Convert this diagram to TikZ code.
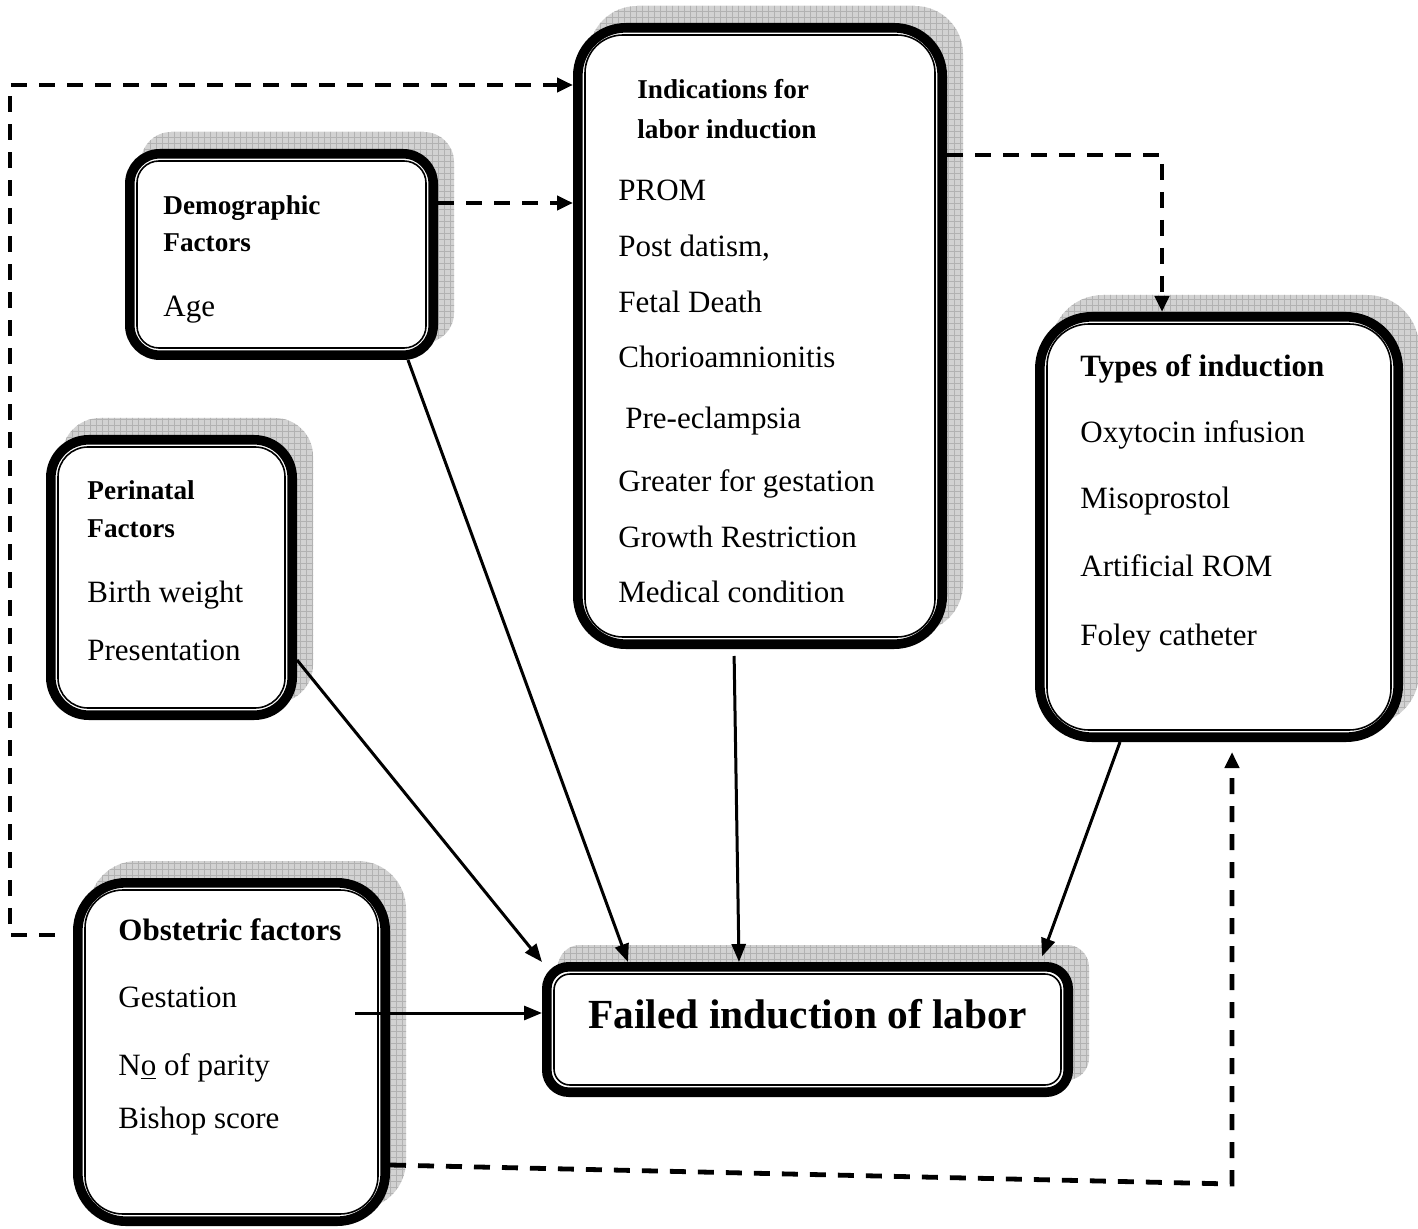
\documentclass[tikz,border=0pt]{standalone}
\usepackage{fontspec}
\setmainfont{Liberation Serif}
\usetikzlibrary{arrows.meta,patterns,backgrounds,calc}

\tikzset{
  panel/.style={draw, line width=4.8pt, fill=white},
  shade/.style={fill=gray!35, postaction={pattern=grid, pattern color=gray!60}},
  rim/.style={draw, line width=0.8pt},
  head/.style={anchor=base west, inner sep=0pt, font=\fontsize{13.6}{16}\selectfont\bfseries},
  bighead/.style={head, font=\fontsize{15.5}{18}\selectfont\bfseries},
  item/.style={anchor=base west, inner sep=0pt, font=\fontsize{15.5}{18}\selectfont},
  link/.style={line width=1.5pt, -{Triangle[length=9pt,width=7pt]}},
  dashlink/.style={line width=2.4pt, dash pattern=on 8pt off 6pt, -{Triangle[length=8pt,width=7pt]}}
}

% box with shadow and double rim: name, centre, width, height, radius, inner radius
\newcommand{\panelbox}[6]{%
  \node[panel, minimum width=#3, minimum height=#4, rounded corners=#5] (#1) at #2 {};
  \begin{scope}[on background layer]
    \fill[shade, rounded corners=#5] ([shift={(8pt,8.5pt)}]#1.south west) rectangle ([shift={(8pt,8.5pt)}]#1.north east);
  \end{scope}
  \draw[rim, rounded corners=#6] ([shift={(6pt,-6pt)}]#1.north west) rectangle ([shift={(-6pt,6pt)}]#1.south east);
}

\begin{document}
\begin{tikzpicture}[x=0.5pt, y=-0.5pt]
  \useasboundingbox (0,0) rectangle (1418,1229);

  % Boxes
  \panelbox{demo}{(281.5,254.5)}{151.7pt}{100.7pt}{15pt}{11pt}
  \panelbox{ind}{(760,336)}{182.2pt}{308.2pt}{24pt}{19pt}
  \panelbox{types}{(1219,527)}{179.2pt}{210.2pt}{26pt}{21pt}
  \panelbox{peri}{(171.5,577.5)}{120.7pt}{137.7pt}{19pt}{15pt}
  \panelbox{obst}{(231.5,1052)}{153.7pt}{169.2pt}{24pt}{19pt}
  \panelbox{failed}{(807.5,1029.5)}{260.7pt}{62.7pt}{11pt}{8pt}

  % Demographic
  \node[head] (demo-h1) at (163,215) {Demographic};
  \node[head] (demo-h2) at (163,252) {Factors};
  \node[item] (demo-1) at (163,317) {Age};

  % Indications
  \node[head] (ind-h1) at (637,99) {Indications for};
  \node[head] (ind-h2) at (637,139) {labor induction};
  \foreach \t/\x/\y [count=\i] in {PROM/618/201, {Post datism,}/618/257, Fetal Death/618/313,
      Chorioamnionitis/618/368, Pre-eclampsia/625/429, Greater for gestation/618/492,
      Growth Restriction/618/547, Medical condition/618/602}
    \node[item] (ind-\i) at (\x,\y) {\t};

  % Types
  \node[bighead] (types-h) at (1080,377) {Types of induction};
  \foreach \t/\y [count=\i] in {Oxytocin infusion/443, Misoprostol/509, Artificial ROM/576, Foley catheter/645}
    \node[item] (types-\i) at (1080,\y) {\t};

  % Perinatal
  \node[head] (peri-h1) at (87,500) {Perinatal};
  \node[head] (peri-h2) at (87,538) {Factors};
  \node[item] (peri-1) at (87,603) {Birth weight};
  \node[item] (peri-2) at (87,660) {Presentation};

  % Obstetric
  \node[bighead] (obst-h) at (118,940) {Obstetric factors};
  \node[item] (obst-1) at (118,1007) {Gestation};
  \node[item] (obst-2) at (118,1075) {N\underline{o} of parity};
  \node[item] (obst-3) at (118,1128) {Bishop score};

  % Outcome
  \node[anchor=base west, inner sep=0pt, font=\fontsize{20.7}{24}\selectfont\bfseries] (failed-t) at (588,1028) {Failed induction of labor};

  % Solid connections
  \draw[link] (demo.south -| 408,0) -- (failed.north -| 628,0);
  \draw[link, shorten <=3.5pt] (ind.south -| 734,0) -- (failed.north -| 739,0);
  \draw[link, shorten >=3pt] (types.south -| 1120,0) -- (failed.north -| 1040,0);
  \draw[link] (peri.east |- 0,660) -- (failed.north west);
  \draw[link] ($(obst.east |- 0,1013)+(-35,0)$) -- (failed.west |- 0,1013);

  % Dashed connections
  \coordinate (lb) at (10,935);
  \coordinate (lt) at (10,85);
  \coordinate (tr) at (1162,155);
  \coordinate (br) at (1232,1184);
  \draw[dashlink, shorten <=9pt] (obst.west |- lb) -- (lb) -- (lt) -- (ind.west |- lt);
  \draw[dashlink] (demo.east |- 0,203) -- (ind.west |- 0,203);
  \draw[dashlink] (ind.east |- tr) -- (tr) -- (tr |- types.north);
  \draw[dashlink, shorten >=5pt] (obst.east |- 0,1165) -- (br) -- (br |- types.south);
\end{tikzpicture}
\end{document}
